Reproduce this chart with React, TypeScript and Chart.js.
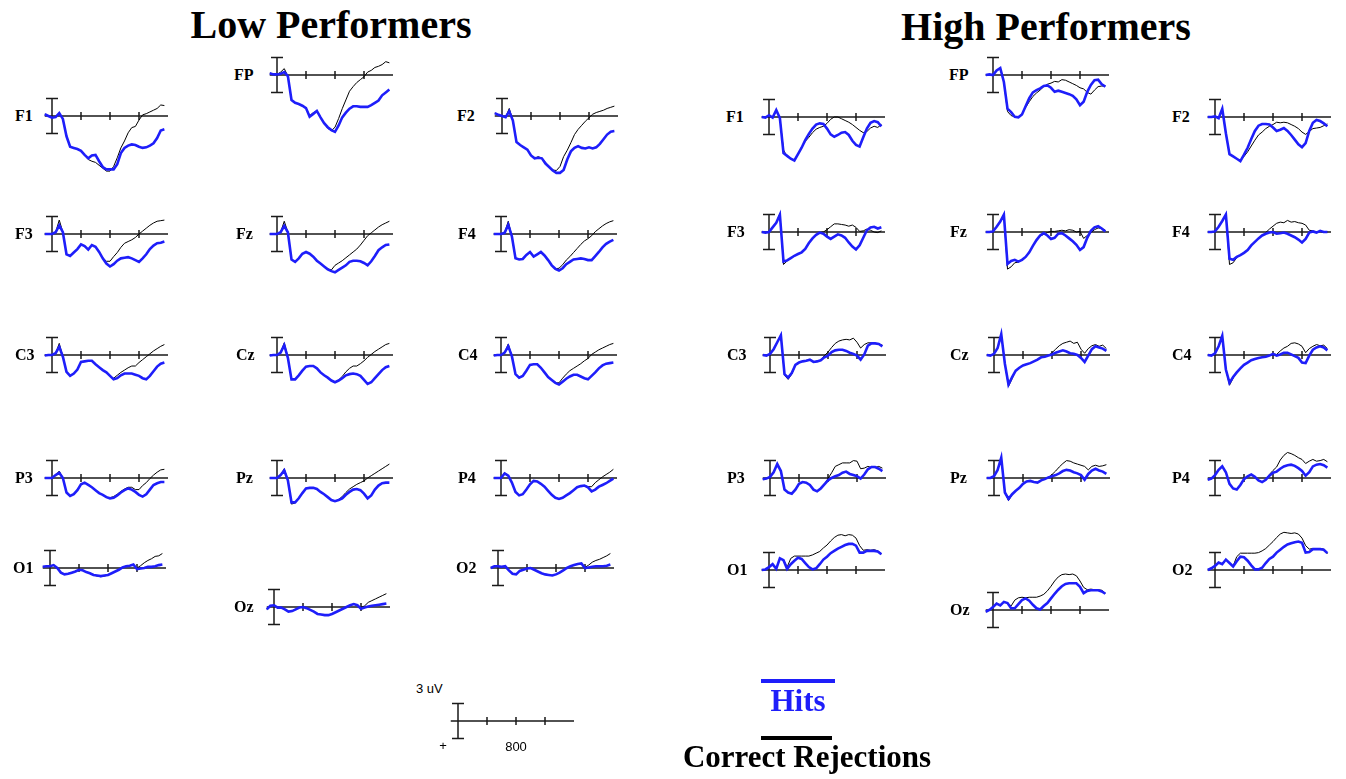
import React, { useEffect, useRef } from 'react';
import { Chart, registerables } from 'chart.js';

Chart.register(...registerables);

// ---------- time base (ms) ----------
const TIMES = [-100, -50, 0, 50, 100, 150, 200, 250, 300, 350, 400, 450, 500, 550, 600, 650, 700, 750, 800, 850, 900, 950, 1000, 1050, 1100, 1150, 1200, 1250, 1300, 1350, 1400, 1450, 1500, 1550];
const TICK_TIMES = [400, 800, 1200];
const AXIS_START = -100;
const AXIS_END = 1600;
const BAR_UV = 3;

// ---------- Low performers (µV, positive plotted downward) ----------
const LOW_F1_HITS = [-0.3, 0, 0.3, 0.2, -0.5, 0.5, 3.5, 5.3, 5.5, 5.7, 6, 6.7, 7.3, 6.8, 6.7, 7.8, 8.8, 9.2, 9.2, 9.2, 8.3, 6.4, 5.5, 5.1, 4.9, 5, 5.3, 5.5, 5.4, 5.1, 4.7, 3.8, 2.5, 2.3];
const LOW_F1_CR = [-0.3, 0, 0.3, 0.2, -0.5, 0.5, 3.5, 5.3, 5.5, 5.7, 6, 6.8, 7.5, 7.8, 8, 8.5, 9, 9.5, 9.5, 8.7, 7.2, 5.5, 4.3, 2.9, 2, 1.8, 0.7, -0.2, -0.4, -0.7, -1, -1.3, -1.9, -1.8];
const LOW_FP_HITS = [-0.3, -0.1, -0.1, -0.2, -0.5, 0.2, 4.3, 4.8, 5, 5.3, 5.7, 7.2, 6.7, 6.2, 7.3, 8.3, 9, 9.5, 9.8, 8.7, 7.3, 6.5, 5.8, 5.4, 5.4, 5.5, 5.5, 5.5, 5.2, 4.8, 4.4, 3.5, 3, 2.5];
const LOW_FP_CR = [-0.3, -0.1, -0.1, -0.5, -1.1, 0.2, 4.3, 4.8, 5, 5.3, 5.7, 7, 6.5, 6.2, 7.3, 8.3, 9.2, 9.6, 9, 7.5, 5.8, 4.3, 2.8, 2, 1.3, 0.8, 0.3, -0.5, -0.8, -1.3, -1.5, -1.8, -2.3, -2.1];
const LOW_F2_HITS = [-0.5, -0.2, 0, 0.2, -0.8, 0.8, 4.5, 5, 5.4, 5.8, 6.8, 7.3, 7.2, 7.3, 8.2, 8.8, 9.4, 9.8, 9.8, 9.3, 7.5, 6.1, 5.5, 5.2, 5.5, 5.6, 5.4, 5.6, 5.4, 4.8, 4, 3.2, 2.7, 2.6];
const LOW_F2_CR = [-0.5, -0.2, 0, 0.2, -1.3, 0.8, 4.5, 5, 5.4, 5.8, 6.8, 7.3, 7, 7.3, 8, 8.8, 9.3, 9.4, 8.7, 7, 5.9, 4.6, 3.2, 2.3, 1.6, 0.9, 0.3, -0.3, -0.6, -0.8, -1, -1.3, -1.5, -1.7];
const LOW_F3_HITS = [0, 0, 0, -0.3, -1.5, -0.3, 3.5, 3.8, 3.2, 2.6, 1.8, 2.1, 2.7, 1.9, 2.2, 3.1, 4.2, 5.1, 5.6, 5.2, 4.6, 4.2, 4.1, 4, 4.2, 4.5, 4.8, 4.2, 3.5, 2.6, 2, 1.6, 1.5, 1.3];
const LOW_F3_CR = [0, 0, 0, -0.3, -2.4, -0.3, 3.5, 3.8, 3.2, 2.6, 1.8, 2.1, 2.6, 1.9, 2.2, 3.1, 4.1, 4.7, 4.7, 3.9, 3.2, 2.3, 1.6, 1.3, 1, 0.6, 0, -0.5, -1, -1.5, -1.9, -2.2, -2.3, -2.4];
const LOW_FZ_HITS = [0, 0, 0, -0.3, -1.4, -0.3, 4.4, 4.8, 4.2, 3.4, 3.1, 3.4, 3.9, 4.6, 5.1, 5.6, 6.1, 6.4, 6.6, 6.2, 5.8, 5.4, 4.8, 4.6, 4.6, 4.7, 5, 5.4, 4.7, 3.8, 2.8, 2.3, 1.9, 1.8];
const LOW_FZ_CR = [0, 0, 0, -0.3, -2.2, -0.3, 4.4, 4.8, 4.2, 3.4, 3.1, 3.4, 3.9, 4.6, 5.1, 5.6, 6, 6.2, 5.4, 5, 4.6, 4.1, 3.6, 3.1, 2.6, 1.9, 1.1, 0.3, -0.2, -0.7, -1.2, -1.6, -1.9, -2.2];
const LOW_F4_HITS = [0, 0, 0, -0.2, -1.6, 0.4, 4.2, 4.4, 4.3, 3.6, 3.1, 3.9, 3.5, 3.1, 3.7, 4.5, 5.4, 6, 6.3, 5.9, 5.2, 4.8, 4.4, 4.3, 4.2, 4.3, 4.5, 4.5, 3.8, 3.1, 2.3, 1.7, 1.3, 1];
const LOW_F4_CR = [0, 0, 0, -0.2, -2.2, 0.4, 4.2, 4.4, 4.3, 3.6, 3.1, 3.9, 3.5, 3.1, 3.7, 4.5, 5.4, 6, 5.9, 5.3, 4.5, 3.9, 3.2, 2.5, 1.8, 1.2, 0.8, 0.3, -0.4, -0.9, -1.4, -1.8, -2.1, -2.3];
const LOW_C3_HITS = [0.1, 0, 0, -0.3, -1.4, 0.3, 2.9, 3.6, 3.2, 2.5, 1.2, 1.1, 1, 1, 1.6, 2.1, 2.6, 3, 3.6, 4.2, 4, 3.5, 3.2, 3.2, 3.2, 3.4, 3.6, 4, 4.2, 3.6, 2.8, 2, 1.5, 1.3];
const LOW_C3_CR = [0.1, 0, 0, -0.3, -2, 0.3, 2.9, 3.6, 3.2, 2.5, 1.2, 1.1, 1, 1, 1.6, 2.1, 2.6, 3, 3.6, 4, 3.5, 3, 2.6, 2.2, 1.9, 1.9, 1.3, 0.8, 0.3, -0.2, -0.7, -1.1, -1.5, -1.8];
const LOW_CZ_HITS = [0.1, 0, 0, -0.4, -1.7, 0.5, 4.2, 4.2, 3.5, 2.7, 2, 1.9, 1.9, 2.3, 3, 3.5, 3.9, 4.4, 4.7, 4.4, 4, 3.5, 3.3, 3.2, 3.3, 3.6, 4.3, 5, 4.7, 4, 3.3, 2.6, 2.1, 1.9];
const LOW_CZ_CR = [0.1, 0, 0, -0.4, -2.1, 0.5, 4.2, 4.2, 3.5, 2.7, 2, 1.9, 1.9, 2.3, 3, 3.5, 3.9, 4.4, 4.7, 4.3, 3.7, 2.9, 2.3, 1.9, 1.9, 1.5, 1, 0.4, -0.1, -0.6, -1, -1.4, -1.8, -2];
const LOW_C4_HITS = [0.1, 0, 0, -0.4, -1.5, 0.2, 3.3, 3.9, 3.6, 2.7, 1.7, 1.6, 1.6, 2.2, 3, 3.8, 4.3, 4.8, 5.1, 4.6, 4.1, 3.7, 3.4, 3.4, 3.7, 4, 4.2, 3.6, 3, 2.3, 1.8, 1.5, 1.4, 1.3];
const LOW_C4_CR = [0.1, 0, 0, -0.4, -1.9, 0.2, 3.3, 3.9, 3.6, 2.7, 1.7, 1.6, 1.6, 2.2, 3, 3.8, 4.3, 4.8, 4.8, 4, 3.3, 2.7, 2.3, 1.9, 1.5, 1, 0.6, -0.1, -0.5, -0.9, -1.2, -1.5, -1.8, -2];
const LOW_P3_HITS = [0, 0, 0, -0.5, -0.9, 0, 2.5, 3.1, 2.8, 2.1, 1.1, 0.8, 1.2, 1.6, 2.1, 2.6, 2.9, 3.3, 3.5, 3.4, 3, 2.5, 2.1, 1.8, 2, 2.4, 2.9, 3.2, 2.8, 2, 1.2, 0.9, 0.7, 0.7];
const LOW_P3_CR = [0, 0, 0, -0.5, -1.2, 0, 2.5, 3.1, 2.8, 2.1, 1.1, 0.8, 1.2, 1.6, 2.1, 2.6, 2.9, 3.3, 3.4, 3.2, 2.8, 2.3, 1.9, 1.6, 1.6, 2, 2, 1.3, 0.8, 0.1, -0.5, -1, -1.4, -1.5];
const LOW_PZ_HITS = [0, 0, 0, -0.5, -1.3, 0.4, 4.2, 4.2, 3.5, 2.6, 1.8, 1.7, 1.7, 1.9, 2.4, 2.8, 3.3, 3.8, 4, 3.8, 3.5, 2.9, 2.4, 2, 1.9, 2.1, 2.7, 3.5, 3, 2, 1.3, 0.9, 0.8, 0.8];
const LOW_PZ_CR = [0, 0, 0, -0.5, -1.6, 0.4, 4.5, 4.3, 3.5, 2.6, 1.8, 1.7, 1.7, 1.9, 2.4, 2.8, 3.3, 3.8, 4, 3.7, 3.2, 2.5, 1.9, 1.5, 1.1, 0.8, 0.5, 0, -0.4, -0.8, -1.2, -1.6, -2, -2.4];
const LOW_P4_HITS = [0, 0, 0, -0.8, -0.4, 0.8, 2.4, 3, 2.8, 2, 1.1, 0.5, 0.6, 1, 1.5, 2.2, 2.9, 3.4, 3.6, 3.4, 3, 2.6, 2.1, 1.6, 1.4, 1.3, 1.6, 2.3, 2, 1.5, 1.2, 0.9, 0.5, 0.1];
const LOW_P4_CR = [0, 0, 0, -0.9, -0.4, 0.8, 2.4, 3, 2.8, 2, 1.1, 0.5, 0.6, 1, 1.5, 2.2, 2.9, 3.4, 3.6, 3.4, 3, 2.6, 2.1, 1.6, 1.4, 1.3, 1.5, 1.5, 0.8, 0.3, -0.2, -0.6, -1, -1.5];
const LOW_O1_HITS = [-0.2, -0.3, -0.3, -0.5, 0, 0.8, 1.1, 1, 0.8, 0.6, 0.3, 0.4, 0.7, 0.9, 1.2, 1.3, 1.4, 1.3, 1.2, 0.9, 0.6, 0.3, -0.1, -0.3, -0.4, -0.6, 0.2, 0.1, 0, -0.2, -0.2, -0.3, -0.5, -0.6];
const LOW_O1_CR = [-0.2, -0.3, -0.3, -0.5, 0, 0.8, 1.1, 1, 0.8, 0.6, 0.3, 0.4, 0.7, 0.9, 1.2, 1.4, 1.5, 1.4, 1.2, 0.9, 0.6, 0.3, -0.1, -0.3, -0.4, -0.6, 0, -0.4, -0.9, -1.3, -1.6, -2, -2.1, -2.5];
const LOW_OZ_HITS = [0.4, -0.2, -0.3, 0.1, 0.1, 0.4, 0.8, 0.7, 0.4, 0.1, 0, 0.2, 0.5, 0.8, 1.2, 1.3, 1.4, 1.4, 1.2, 0.9, 0.6, 0.3, 0, -0.3, -0.5, -0.3, 0.3, 0.1, -0.1, -0.2, -0.3, -0.4, -0.5, -0.6];
const LOW_OZ_CR = [0.4, -0.2, -0.3, 0.1, 0.1, 0.4, 0.8, 0.7, 0.4, 0.1, 0, 0.2, 0.5, 0.8, 1.2, 1.3, 1.4, 1.4, 1.2, 0.9, 0.6, 0.3, 0, -0.3, -0.5, -0.3, 0.1, -0.2, -0.8, -1.1, -1.4, -1.7, -2, -2.3];
const LOW_O2_HITS = [0, -0.3, -0.3, -0.2, -0.3, 0.4, 1, 1.1, 0.5, 0.3, 0.1, 0, 0.3, 0.6, 0.9, 1.1, 1.2, 1.3, 1.1, 0.8, 0.4, 0, -0.3, -0.5, -0.7, -0.8, 0, -0.1, -0.2, -0.3, -0.3, -0.3, -0.4, -0.6];
const LOW_O2_CR = [0, -0.3, -0.3, -0.2, -0.3, 0.4, 1, 1.1, 0.5, 0.3, 0.1, 0, 0.3, 0.6, 0.9, 1.1, 1.2, 1.3, 1.1, 0.8, 0.4, 0, -0.3, -0.5, -0.7, -0.8, -0.1, -0.5, -1, -1.3, -1.5, -1.8, -2.1, -2.5];

// ---------- High performers ----------
const HIGH_F1_HITS = [0, 0.1, -0.3, 0.1, -1.2, 0.2, 6.2, 6.7, 7.2, 7.5, 6.4, 5.3, 4, 2.9, 2, 1.3, 1.1, 1.2, 2, 3, 3.4, 3.1, 2.7, 2.6, 3.1, 4.1, 4.8, 5.1, 3.5, 2, 1, 0.7, 0.9, 1.6];
const HIGH_F1_CR = [0, 0.1, -0.3, 0.1, -1, 0.2, 5.7, 6.8, 7.2, 7.5, 6.4, 5.3, 4.2, 3.5, 2.7, 2.1, 1.8, 1.6, 1.1, 0.4, 0, 0, 0.3, 0.6, 0.9, 1.3, 1.8, 2.3, 2.7, 2.5, 1.9, 1.6, 1.8, 1.3];
const HIGH_FP_HITS = [0, -0.1, 0, -0.8, -1.2, 1.2, 5.8, 6.4, 7.2, 7.3, 6.8, 5.4, 4, 3, 2.6, 2.3, 1.9, 1.8, 2.2, 2.9, 2.7, 2.9, 3.1, 3.3, 3.6, 4.2, 5.2, 4.6, 2.9, 1.7, 0.9, 0.8, 1.6, 2];
const HIGH_FP_CR = [0, -0.1, 0, -0.8, -1.2, 1.2, 6.3, 7, 7.2, 7.3, 6.7, 5.6, 4.6, 3.7, 3.1, 2.6, 2, 1.6, 1.4, 1.1, 1.2, 0.8, 0.9, 1.2, 1.5, 1.8, 2.2, 2.4, 3, 3.3, 2.6, 2, 1.9, 1.9];
const HIGH_F2_HITS = [0, 0, -0.1, 0.2, -1.4, 2.8, 6.4, 6.8, 7.2, 7.6, 6.5, 5.3, 3.8, 2.4, 1.5, 1.2, 1.2, 1.3, 1.8, 2.4, 2.2, 1.9, 2.4, 3.1, 3.9, 4.7, 5.2, 4.5, 2.4, 1, 0.5, 0.7, 1.1, 1.6];
const HIGH_F2_CR = [0, 0, -0.1, 0.2, -1.2, 2.8, 6.5, 6.8, 7.2, 7.5, 6.8, 6, 5, 4, 3.1, 2.6, 2, 1.6, 1.3, 0.9, 1, 0.9, 1, 1.3, 1.6, 2, 2.6, 3, 2.5, 2, 1.9, 1.8, 1.5, 1.2];
const HIGH_F3_HITS = [0, 0.1, 0, -0.8, -1.6, -3, 5.1, 4.9, 4.5, 4.1, 3.8, 3.5, 2.9, 1.9, 1.1, 0.5, 0.1, 0.3, 0.8, 1.2, 0.8, 0.4, 0.6, 1, 1.8, 2.5, 3, 2.3, 1, -0.3, -0.8, -0.9, -0.6, -0.8];
const HIGH_F3_CR = [0, 0.1, 0, -0.8, -1.6, -3.2, 5.6, 5, 4.5, 4.1, 3.8, 3.5, 2.9, 1.9, 1.1, 0.5, 0.1, 0, -0.4, -0.9, -1.4, -1.4, -1.3, -1.2, -1, -1.2, -0.8, -0.1, -0.2, -0.5, -0.3, 0, 0.1, -0.2];
const HIGH_FZ_HITS = [0, 0, -0.1, -0.9, -1.8, -3, 5.5, 5, 4.8, 5.1, 4.8, 4.3, 3.5, 2.4, 1.4, 0.6, 0.2, 0.6, 1.2, 1, 0.3, 0.2, 0.6, 1.1, 1.6, 2.2, 3.1, 2.6, 1, -0.2, -0.8, -1, -0.6, -0.1];
const HIGH_FZ_CR = [0, 0, -0.1, -0.9, -1.8, -3, 6.4, 6, 5.3, 5.2, 4.8, 4.3, 3.5, 2.4, 1.4, 0.7, 0.4, 0.1, -0.1, -0.1, -0.2, -0.3, -0.2, -0.4, -0.3, 0, -0.1, 1.1, 0.6, 0.1, -0.4, -0.7, -0.6, -0.3];
const HIGH_F4_HITS = [0, 0, -0.1, -0.9, -1.9, -3, 4.6, 4.8, 4.3, 4, 3.6, 3.1, 2.3, 1.7, 1.1, 0.6, 0.3, 0.1, 0, 0.3, 0.2, 0.1, 0.3, 0.6, 0.9, 1.3, 1.8, 1.2, 0.1, -0.1, 0.1, -0.2, 0, 0];
const HIGH_F4_CR = [0, 0, -0.1, -0.9, -1.9, -3, 5.6, 5.3, 4.4, 4, 3.6, 3.1, 2.3, 1.7, 1.1, 0.6, 0.1, -0.5, -1, -1.5, -1.7, -1.6, -2, -1.7, -1.8, -1.6, -1.5, -1.2, -0.3, -0.2, 0, -0.1, 0.1, 0];
const HIGH_C3_HITS = [0, 0.1, -0.2, -1, -2.2, -3.4, 3.3, 3.9, 3.1, 1.7, 1.3, 1.1, 1, 0.8, 1.2, 1.1, 0.9, 0.4, 0.1, -0.5, -0.8, -0.9, -0.9, -0.7, -0.4, -0.2, 0.1, 0.8, -0.1, -1.6, -2, -2, -1.9, -1.5];
const HIGH_C3_CR = [0, 0.1, -0.2, -1, -2.2, -3.4, 3.5, 4.2, 3.3, 1.8, 1.3, 1.1, 1, 0.8, 1.2, 1.1, 0.9, 0.1, -0.5, -1.3, -2, -2.4, -2.6, -2.7, -2.6, -2.9, -2.2, -1.2, -1.8, -2.1, -2.1, -2, -1.9, -1.7];
const HIGH_CZ_HITS = [0, 0.1, -0.2, -1.2, -3.6, 1.5, 5.1, 3.8, 2.7, 2.2, 1.8, 1.6, 1.4, 1.1, 0.8, 0.4, 0.3, 0.1, -0.1, -0.4, -0.6, -0.8, -0.6, -0.3, -0.2, 0, 0.5, 1.2, 0.1, -1, -1.5, -1.3, -1.1, -0.7];
const HIGH_CZ_CR = [0, 0.1, -0.2, -1.2, -3.6, 1.5, 5.4, 4.1, 2.7, 2.2, 1.8, 1.6, 1.4, 1.1, 0.8, 0.4, 0.3, 0.1, -0.4, -1, -1.6, -2, -2.2, -2.4, -2, -2.2, -1, -0.3, -1.1, -1.6, -1.8, -1.5, -1.7, -1.1];
const HIGH_C4_HITS = [0, 0.1, -0.3, -1.5, -3.3, 2.5, 4.8, 3.8, 3, 2.3, 1.7, 1.3, 0.9, 0.7, 0.5, 0.4, 0.3, 0.1, -0.2, 0.1, -0.1, -0.4, -0.4, -0.1, 0.2, 0.5, 1.3, 1.4, 0.1, -0.9, -1.3, -1.5, -1.3, -0.8];
const HIGH_C4_CR = [0, 0.1, -0.3, -1.5, -3.3, 2.5, 5.2, 4, 3, 2.3, 1.7, 1.3, 0.9, 0.7, 0.5, 0.4, 0.3, 0.1, -0.2, -0.1, -0.7, -1.2, -1.5, -2, -2.1, -1.9, -1.5, -0.4, -1.1, -1.5, -1.8, -1.6, -1.7, -1.1];
const HIGH_P3_HITS = [0.2, 0.1, -0.2, -1, -2.4, -1.2, 2, 2.5, 2.7, 2, 1, 0.7, 0.8, 1.2, 2, 2.3, 1.8, 1.1, 0.4, 0, -0.3, -0.5, -0.9, -1.1, -0.7, -0.5, -0.3, 0.1, -0.6, -1.5, -1.9, -1.9, -1.6, -1.2];
const HIGH_P3_CR = [0.2, 0.1, -0.2, -1, -2.4, -1.2, 2, 2.5, 2.7, 2, 1, 0.7, 0.8, 1.2, 2, 2.3, 1.8, 1.1, 0.1, -0.9, -2, -2.3, -2.6, -2.6, -2.6, -3, -2.9, -1.6, -1.7, -2, -1.8, -1.8, -2, -1.7];
const HIGH_PZ_HITS = [0, 0, -0.3, -1.4, -3.5, 2.5, 3.6, 2.8, 2.2, 1.7, 1, 0.6, 0.5, 0.7, 0.8, 0.4, 0.2, -0.1, -0.3, -0.5, -0.8, -1.2, -1.4, -1.3, -1, -0.8, -0.5, 0.3, -0.7, -1.3, -1.6, -1.3, -1.1, -0.7];
const HIGH_PZ_CR = [0, 0, -0.3, -1.4, -3.5, 2.5, 3.9, 2.9, 2.2, 1.7, 1, 0.6, 0.5, 0.7, 0.8, 0.4, 0.2, -0.1, -0.6, -1.2, -1.9, -2.5, -3, -2.9, -2.6, -2.4, -2.2, -2, -1.4, -2, -2.2, -2, -2.1, -2.3];
const HIGH_P4_HITS = [0.3, 0.1, -0.5, -1.4, -2, -1, 1, 1.8, 2, 1.2, 0.2, -0.3, -0.6, -0.2, 0.4, 0.7, 0.3, -0.4, -0.9, -1.1, -1.6, -2, -2.2, -2.3, -2.1, -1.7, -1.2, -0.4, -1, -2, -2.3, -2.4, -2.2, -1.8];
const HIGH_P4_CR = [0.3, 0.1, -0.5, -1.4, -2, -1, 1, 1.8, 2, 1.2, 0.2, -0.3, -0.6, -0.2, 0.4, 0.7, 0.3, -0.6, -1.3, -1.9, -3.1, -3.9, -4.4, -4.2, -3.9, -3.5, -3.2, -2.5, -2.9, -3.2, -2.9, -3, -3.2, -2.8];
const HIGH_O1_HITS = [0, -0.1, -0.5, -1, -0.2, -2, -1.7, -0.2, -1, -1.6, -2.1, -1.9, -1.2, -0.5, -0.1, -0.3, -1, -1.8, -2.3, -2.9, -3.3, -3.7, -4, -4.3, -4.5, -4.5, -4.2, -3, -3, -3.3, -3.3, -3.3, -3.2, -2.7];
const HIGH_O1_CR = [0, -0.1, -0.5, -1, -0.2, -2, -1.7, -0.5, -2, -2.4, -2.4, -2.4, -2.4, -2.4, -2.6, -2.9, -3.2, -3.8, -4.3, -5, -5.6, -6, -6.1, -5.9, -6.1, -6, -5.5, -4.2, -3.4, -3.5, -3.4, -3.5, -3.3, -2.8];
const HIGH_OZ_HITS = [0.3, 0, -0.5, -1.1, -0.8, -1.4, -1.2, -0.3, -0.3, -1, -1.7, -2, -1.6, -0.9, -0.3, -0.1, -0.7, -1.2, -2, -2.8, -3.5, -4.1, -4.5, -4.6, -4.6, -4.6, -4, -2.9, -3.3, -3.4, -3.4, -3.4, -3.2, -2.8];
const HIGH_OZ_CR = [0.3, 0, -0.5, -1.1, -0.8, -1.4, -1.2, -0.7, -1.7, -2.1, -2.2, -2.1, -2.2, -2.2, -2.2, -2.4, -2.7, -3.3, -4.1, -5, -5.7, -6.1, -6.2, -6.1, -6.2, -5.9, -5, -3.9, -3.5, -3.6, -3.5, -3.5, -3.4, -2.9];
const HIGH_O2_HITS = [0, -0.3, -0.7, -1.3, -1, -1.8, -1.2, -0.6, -1.5, -2.3, -2.2, -1.6, -0.8, -0.1, -0.1, -0.4, -1.2, -1.9, -2.3, -3, -3.5, -4, -4.4, -4.6, -4.8, -4.9, -4.7, -3, -3.1, -3.6, -3.6, -3.6, -3.5, -2.9];
const HIGH_O2_CR = [0, -0.3, -0.7, -1.3, -1, -1.8, -1.2, -0.7, -2.3, -2.9, -2.9, -2.9, -2.9, -2.9, -3, -3.3, -3.7, -4.3, -4.9, -5.6, -6.2, -6.5, -6.4, -6.3, -6.4, -6.2, -5.5, -4.2, -3.6, -3.7, -3.7, -3.7, -3.6, -2.8];

// ---------- layout (page px): bx = stimulus bar x, ay = zero-axis y, lx = label left ----------
type PanelDef = { label: string; hits: number[] | null; cr: number[] | null; bx: number; ay: number; lx: number };

const PANELS: PanelDef[] = [
  { label: 'F1', hits: LOW_F1_HITS, cr: LOW_F1_CR, bx: 52, ay: 116, lx: 15 },
  { label: 'FP', hits: LOW_FP_HITS, cr: LOW_FP_CR, bx: 277, ay: 75, lx: 234 },
  { label: 'F2', hits: LOW_F2_HITS, cr: LOW_F2_CR, bx: 502, ay: 116, lx: 457 },
  { label: 'F3', hits: LOW_F3_HITS, cr: LOW_F3_CR, bx: 52, ay: 234, lx: 15 },
  { label: 'Fz', hits: LOW_FZ_HITS, cr: LOW_FZ_CR, bx: 277, ay: 234, lx: 236 },
  { label: 'F4', hits: LOW_F4_HITS, cr: LOW_F4_CR, bx: 501, ay: 234, lx: 458 },
  { label: 'C3', hits: LOW_C3_HITS, cr: LOW_C3_CR, bx: 52, ay: 355, lx: 15 },
  { label: 'Cz', hits: LOW_CZ_HITS, cr: LOW_CZ_CR, bx: 277, ay: 355, lx: 236 },
  { label: 'C4', hits: LOW_C4_HITS, cr: LOW_C4_CR, bx: 501, ay: 355, lx: 458 },
  { label: 'P3', hits: LOW_P3_HITS, cr: LOW_P3_CR, bx: 52, ay: 478, lx: 15 },
  { label: 'Pz', hits: LOW_PZ_HITS, cr: LOW_PZ_CR, bx: 277, ay: 478, lx: 236 },
  { label: 'P4', hits: LOW_P4_HITS, cr: LOW_P4_CR, bx: 501, ay: 478, lx: 458 },
  { label: 'O1', hits: LOW_O1_HITS, cr: LOW_O1_CR, bx: 50, ay: 568, lx: 13 },
  { label: 'Oz', hits: LOW_OZ_HITS, cr: LOW_OZ_CR, bx: 274, ay: 607, lx: 234 },
  { label: 'O2', hits: LOW_O2_HITS, cr: LOW_O2_CR, bx: 498, ay: 568, lx: 456 },

  { label: 'F1', hits: HIGH_F1_HITS, cr: HIGH_F1_CR, bx: 769, ay: 117, lx: 726 },
  { label: 'FP', hits: HIGH_FP_HITS, cr: HIGH_FP_CR, bx: 993, ay: 75, lx: 949 },
  { label: 'F2', hits: HIGH_F2_HITS, cr: HIGH_F2_CR, bx: 1215, ay: 117, lx: 1172 },
  { label: 'F3', hits: HIGH_F3_HITS, cr: HIGH_F3_CR, bx: 769, ay: 232, lx: 727 },
  { label: 'Fz', hits: HIGH_FZ_HITS, cr: HIGH_FZ_CR, bx: 993, ay: 232, lx: 950 },
  { label: 'F4', hits: HIGH_F4_HITS, cr: HIGH_F4_CR, bx: 1215, ay: 232, lx: 1172 },
  { label: 'C3', hits: HIGH_C3_HITS, cr: HIGH_C3_CR, bx: 770, ay: 355, lx: 727 },
  { label: 'Cz', hits: HIGH_CZ_HITS, cr: HIGH_CZ_CR, bx: 994, ay: 355, lx: 950 },
  { label: 'C4', hits: HIGH_C4_HITS, cr: HIGH_C4_CR, bx: 1215, ay: 355, lx: 1172 },
  { label: 'P3', hits: HIGH_P3_HITS, cr: HIGH_P3_CR, bx: 770, ay: 478, lx: 727 },
  { label: 'Pz', hits: HIGH_PZ_HITS, cr: HIGH_PZ_CR, bx: 994, ay: 478, lx: 950 },
  { label: 'P4', hits: HIGH_P4_HITS, cr: HIGH_P4_CR, bx: 1215, ay: 478, lx: 1172 },
  { label: 'O1', hits: HIGH_O1_HITS, cr: HIGH_O1_CR, bx: 769, ay: 570, lx: 727 },
  { label: 'Oz', hits: HIGH_OZ_HITS, cr: HIGH_OZ_CR, bx: 993, ay: 610, lx: 950 },
  { label: 'O2', hits: HIGH_O2_HITS, cr: HIGH_O2_CR, bx: 1215, ay: 570, lx: 1172 },

  // calibration (scale) panel
  { label: '', hits: null, cr: null, bx: 458, ay: 721, lx: 0 },
];

// ---------- geometry / style ----------
const PX_PER_MS = 29 / 400;
const PX_PER_UV = 5.8;
const PAD_L = 14;
const PAD_R = 126;
const PAD_T = 52;
const PAD_B = 72;
const BLUE = 'rgb(30,30,250)';
const SERIF = '"Liberation Serif", "Times New Roman", Times, serif';
const SANS = '"Liberation Sans", Arial, Helvetica, sans-serif';

const axesPlugin = {
  id: 'erpAxes',
  beforeDatasetsDraw(chart: any) {
    const { ctx, scales } = chart;
    const x = scales.x;
    const y = scales.y;
    const x0 = x.getPixelForValue(0);
    const y0 = y.getPixelForValue(0);
    const yt = y.getPixelForValue(-BAR_UV);
    const yb = y.getPixelForValue(BAR_UV);
    ctx.save();
    ctx.strokeStyle = '#1a1a1a';
    ctx.lineWidth = 1.5;
    ctx.beginPath();
    ctx.moveTo(x.getPixelForValue(AXIS_START), y0);
    ctx.lineTo(x.getPixelForValue(AXIS_END), y0);
    for (const t of TICK_TIMES) {
      const px = x.getPixelForValue(t);
      ctx.moveTo(px, y0 - 4);
      ctx.lineTo(px, y0 + 4);
    }
    ctx.moveTo(x0, yt);
    ctx.lineTo(x0, yb);
    ctx.moveTo(x0 - 6, yt);
    ctx.lineTo(x0 + 6, yt);
    ctx.moveTo(x0 - 6, yb);
    ctx.lineTo(x0 + 6, yb);
    ctx.stroke();
    ctx.restore();
  },
};

function toPoints(vals: number[]) {
  return TIMES.map((t, i) => ({ x: t, y: vals[i] }));
}

function TextAt(props: { text: string; cx?: number; left?: number; cy: number; size: number; bold?: boolean; color?: string; font?: string }) {
  const { text, cx, left, cy, size, bold = true, color = '#000', font = SERIF } = props;
  const style: React.CSSProperties = {
    position: 'absolute',
    top: cy - size * 0.5,
    fontFamily: font,
    fontWeight: bold ? 700 : 400,
    fontSize: size,
    lineHeight: '1',
    color,
    whiteSpace: 'nowrap',
  };
  if (cx !== undefined) {
    style.left = cx;
    style.transform = 'translateX(-50%)';
  } else {
    style.left = left;
  }
  return <div style={style}>{text}</div>;
}

export default function App() {
  const canvasRefs = useRef<(HTMLCanvasElement | null)[]>([]);

  useEffect(() => {
    const charts: Chart[] = [];
    PANELS.forEach((p, i) => {
      const cv = canvasRefs.current[i];
      if (!cv) return;
      const datasets: any[] = [];
      if (p.hits) {
        datasets.push({
          label: 'Hits',
          data: toPoints(p.hits),
          borderColor: BLUE,
          borderWidth: 2.6,
          pointRadius: 0,
          tension: 0,
          fill: false,
        });
      }
      if (p.cr) {
        datasets.push({
          label: 'Correct Rejections',
          data: toPoints(p.cr),
          borderColor: '#000',
          borderWidth: 1,
          pointRadius: 0,
          tension: 0,
          fill: false,
        });
      }
      const chart = new Chart(cv, {
        type: 'line',
        data: { datasets },
        options: {
          responsive: false,
          animation: false,
          events: [],
          layout: { padding: 0 },
          plugins: { legend: { display: false }, tooltip: { enabled: false }, title: { display: false } },
          scales: {
            x: { type: 'linear', display: false, min: -PAD_L / PX_PER_MS, max: PAD_R / PX_PER_MS },
            y: { type: 'linear', display: false, reverse: true, min: -PAD_T / PX_PER_UV, max: PAD_B / PX_PER_UV },
          },
        },
        plugins: [axesPlugin],
      } as any);
      charts.push(chart);
    });
    return () => charts.forEach((c) => c.destroy());
  }, []);

  return (
    <div style={{ position: 'absolute', left: 0, top: 0, width: 1346, height: 779, background: '#fff', overflow: 'hidden' }}>
      <TextAt text="Low Performers" cx={331} cy={25} size={40} />
      <TextAt text="High Performers" cx={1046} cy={27} size={40} />

      {PANELS.map((p, i) => (
        <canvas
          key={'c' + i}
          ref={(el) => { canvasRefs.current[i] = el; }}
          width={PAD_L + PAD_R}
          height={PAD_T + PAD_B}
          style={{ position: 'absolute', left: p.bx - PAD_L, top: p.ay - PAD_T, width: PAD_L + PAD_R, height: PAD_T + PAD_B }}
        />
      ))}

      {PANELS.filter((p) => p.label).map((p, i) => (
        <TextAt key={'l' + i} text={p.label} left={p.lx} cy={p.ay} size={16} />
      ))}

      {/* calibration labels */}
      <TextAt text="3 uV" left={416} cy={688} size={13} bold={false} font={SANS} />
      <TextAt text="+" cx={443} cy={745} size={13} bold={false} font={SANS} />
      <TextAt text="800" cx={516} cy={746} size={13} bold={false} font={SANS} />

      {/* legend */}
      <div style={{ position: 'absolute', left: 761, top: 679, width: 74, height: 4, background: BLUE }} />
      <TextAt text="Hits" cx={798} cy={700} size={31} color={BLUE} />
      <div style={{ position: 'absolute', left: 761, top: 736, width: 71, height: 4, background: '#000' }} />
      <TextAt text="Correct Rejections" cx={807} cy={756} size={31} />
    </div>
  );
}
